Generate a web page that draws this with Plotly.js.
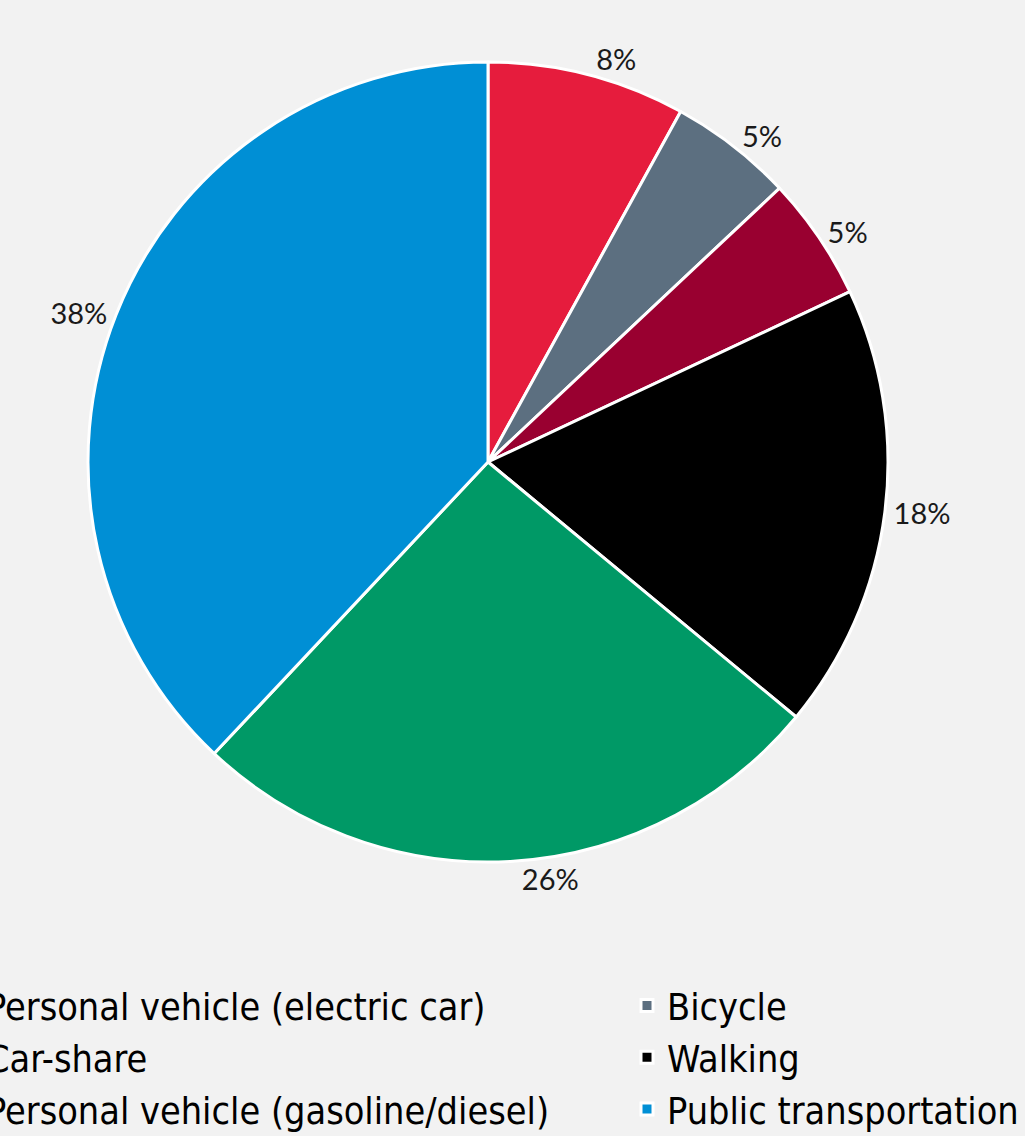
<!DOCTYPE html>
<html>
<head>
<meta charset="utf-8">
<script src="https://cdn.plot.ly/plotly-3.0.1.min.js"></script>
<style>
  html, body { margin: 0; padding: 0; background: #f2f2f2; overflow: hidden; width: 1025px; height: 1136px; }
  #chart { width: 1500px; height: 1136px; }
</style>
</head>
<body>
<div id="chart"></div>
<script>
const categories = [
  "Personal vehicle (electric car)",
  "Bicycle",
  "Car-share",
  "Walking",
  "Personal vehicle (gasoline/diesel)",
  "Public transportation"
];
const shares = [8, 5, 5, 18, 26, 38];
const sliceColors = ["#E61C3D", "#5C6F80", "#990030", "#000000", "#009966", "#008FD5"];

const W = 1500, H = 1136, B = 190;
const gsH = H - B;

const trace = {
  type: "pie",
  labels: categories,
  values: shares,
  sort: false,
  direction: "clockwise",
  rotation: 0,
  marker: { colors: sliceColors, line: { color: "#ffffff", width: 3 } },
  textinfo: "percent",
  texttemplate: "%{value}%",
  textposition: "outside",
  outsidetextfont: { family: "Lato, 'Open Sans', sans-serif", size: 29, color: "#1a1a1a" },
  hoverinfo: "label+percent",
  domain: { x: [88 / W, 888 / W], y: [(gsH - 862) / gsH, (gsH - 62) / gsH] }
};

const layout = {
  width: W,
  height: H,
  paper_bgcolor: "#f2f2f2",
  plot_bgcolor: "#f2f2f2",
  margin: { l: 0, r: 0, t: 0, b: B, autoexpand: false },
  showlegend: true,
  legend: {
    orientation: "h",
    x: -54 / W,
    xanchor: "left",
    y: -(974.5 - gsH) / gsH,
    yanchor: "top",
    entrywidth: 636,
    entrywidthmode: "pixels",
    traceorder: "normal",
    bgcolor: "rgba(0,0,0,0)",
    font: { family: "'DejaVu Sans Condensed', 'DejaVu Sans', sans-serif", size: 37.5, color: "#000000" }
  }
};

Plotly.newPlot("chart", [trace], layout, { displayModeBar: false, staticPlot: true });
</script>
</body>
</html>
